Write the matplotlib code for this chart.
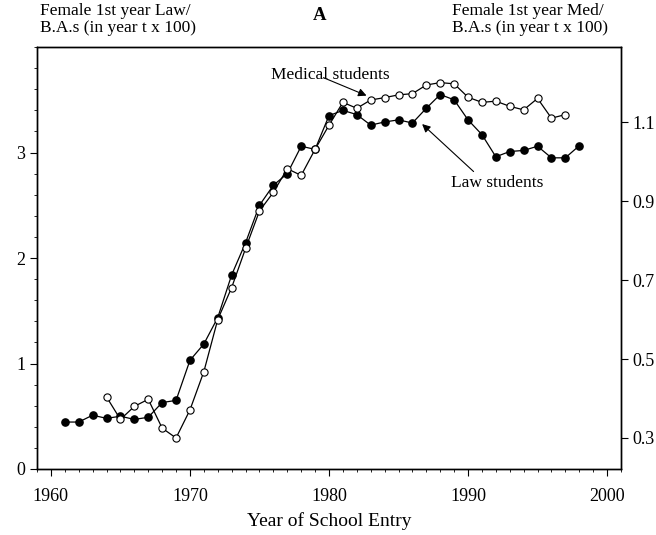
import numpy as np
import matplotlib
matplotlib.use('Agg')
import matplotlib.pyplot as plt
from matplotlib.ticker import MultipleLocator

################### DATA ###################

law_years = list(range(1961, 1999))
law_values = [0.445, 0.445, 0.51, 0.48, 0.50, 0.47, 0.49, 0.63, 0.65, 1.03,
              1.185, 1.435, 1.84, 2.145, 2.50, 2.69, 2.80, 3.06, 3.03, 3.35,
              3.40, 3.36, 3.26, 3.29, 3.31, 3.28, 3.42, 3.55, 3.50, 3.31,
              3.17, 2.96, 3.01, 3.02, 3.06, 2.95, 2.95, 3.065]

med_years = list(range(1964, 1998))
med_values = [0.404, 0.347, 0.380, 0.398, 0.325, 0.300, 0.371, 0.468, 0.600, 0.681,
              0.780, 0.875, 0.922, 0.982, 0.965, 1.031, 1.092, 1.150, 1.135, 1.156,
              1.162, 1.169, 1.172, 1.194, 1.200, 1.197, 1.163, 1.150, 1.153, 1.140,
              1.131, 1.160, 1.110, 1.119]

x_ticks = [1960, 1970, 1980, 1990, 2000]
left_ticks = [0, 1, 2, 3]
right_ticks = [0.3, 0.5, 0.7, 0.9, 1.1]

################### PLOT ###################

plt.rcParams['font.family'] = ['Liberation Serif', 'DejaVu Serif']
plt.rcParams['font.size'] = 12

fig = plt.figure(figsize=(6.56, 5.35), dpi=100)
ax = fig.add_axes([0.0564, 0.1234, 0.8902, 0.7886])
ax2 = ax.twinx()

ax.plot(law_years, law_values, color='black', lw=0.9, marker='o', ms=5.2,
        mfc='black', mec='black', zorder=3)
ax2.plot(med_years, med_values, color='black', lw=0.9, marker='o', ms=5.2,
         mfc='white', mec='black', mew=0.8, zorder=3)

ax.set_xlim(1959, 2001)
ax.set_ylim(0, 4.0)
ax2.set_ylim(0.2215, 1.29)

ax.set_xticks(x_ticks)
ax.xaxis.set_minor_locator(MultipleLocator(1))
ax.set_yticks(left_ticks)
ax.yaxis.set_minor_locator(MultipleLocator(0.2))
ax2.set_yticks(right_ticks)
ax2.set_yticklabels([str(t) for t in right_ticks])

ax.tick_params(axis='both', which='major', direction='out', length=5, width=0.8, labelsize=13)
ax.tick_params(axis='both', which='minor', direction='out', length=2.5, width=0.6)
ax2.tick_params(axis='y', which='major', direction='out', length=5, width=0.8, labelsize=13)
ax.tick_params(axis='x', pad=9)

for a in (ax, ax2):
    for s in a.spines.values():
        s.set_linewidth(1.0)

ax.set_xlabel('Year of School Entry', fontsize=14, labelpad=5)

# annotations
ax.text(1980.1, 3.74, 'Medical students', ha='center', va='center', fontsize=12.5)
ax.annotate('', xy=(1982.7, 3.54), xytext=(1979.6, 3.71),
            arrowprops=dict(arrowstyle='-|>', color='black', lw=0.8,
                            mutation_scale=12, shrinkA=0, shrinkB=0))
ax.text(1992.1, 2.71, 'Law students', ha='center', va='center', fontsize=12.5)
ax.annotate('', xy=(1986.7, 3.27), xytext=(1990.4, 2.82),
            arrowprops=dict(arrowstyle='-|>', color='black', lw=0.8,
                            mutation_scale=12, shrinkA=0, shrinkB=0))

fig.text(40 / 656, 1 - 3 / 535, 'Female 1st year Law/\nB.A.s (in year t x 100)',
         ha='left', va='top', fontsize=12.5, linespacing=1.05)
fig.text(452 / 656, 1 - 3 / 535, 'Female 1st year Med/\nB.A.s (in year t x 100)',
         ha='left', va='top', fontsize=12.5, linespacing=1.05)
fig.text(320 / 656, 1 - 16 / 535, 'A', ha='center', va='center',
         fontsize=13.5, fontweight='bold')

fig.savefig('out.png', dpi=100)
